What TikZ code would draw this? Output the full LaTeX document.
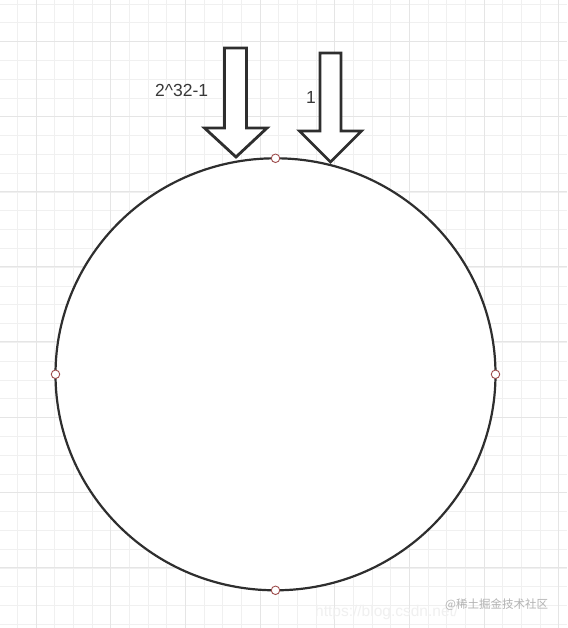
\documentclass[tikz,border=0pt]{standalone}
\usepackage{fontspec}
\setmainfont{Liberation Sans}
\newfontfamily\cjkfont{Noto Sans CJK SC}
\begin{document}
\begin{tikzpicture}[x=1pt,y=-1pt,
  minorline/.style={draw=black!6,line width=0.9pt},
  majorline/.style={draw=black!10,line width=0.9pt},
  ring/.style={draw=black!82,line width=2.2pt,fill=white},
  blockarrow/.style={draw=black!82,line width=2.8pt,line join=miter,fill=white},
  marker/.style={circle,draw=red!45!black!70,fill=white,line width=0.9pt,minimum size=8.5pt,inner sep=0pt},
  lbl/.style={font=\fontsize{17.5}{20}\selectfont,text=black!78,inner sep=0pt},
  wm/.style={inner sep=0pt}]
\useasboundingbox[fill=white] (0,0) rectangle (567,628);
% grid
\foreach \i in {1,...,30} \draw[minorline] ({-1.33+18.67*\i},0) -- ({-1.33+18.67*\i},628);
\foreach \j in {0,...,33} \draw[minorline] (0,{4+18.8*\j}) -- (567,{4+18.8*\j});
\foreach \i in {0,...,7} \draw[majorline] ({36+74.67*\i},0) -- ({36+74.67*\i},628);
\foreach \j in {0,...,7} \draw[majorline] (0,{41+75.2*\j}) -- (567,{41+75.2*\j});
% ring
\coordinate (c) at (275.5,374.3);
\draw[ring] (c) ellipse [x radius=220, y radius=216];
\node[marker] (mtop) at (275.5,158.3) {};
\node[marker] (mleft) at (55.5,374.3) {};
\node[marker] (mright) at (495.5,374.3) {};
\node[marker] (mbottom) at (275.5,590.3) {};
% arrows
\draw[blockarrow] (224.5,48) -- (246.5,48) -- (246.5,128) -- (267,128) -- (236,157) -- (204.5,128) -- (224.5,128) -- cycle;
\draw[blockarrow] (320,53) -- (341,53) -- (341,131) -- (361.5,131) -- (330.5,162) -- (299.5,131) -- (320,131) -- cycle;
% labels
\node[lbl,anchor=base west] (lmax) at (155,96.7) {2\textasciicircum 32-1};
\node[lbl,anchor=base west] (lone) at (306,103.3) {1};
% watermarks
\node[wm,anchor=west,text=black!6,font=\fontsize{15.5}{18}\selectfont] (wurl) at (315,612) {https://blog.csdn.net/};
\node[wm,anchor=west,text=black!30,font=\cjkfont\fontsize{11.5}{14}\selectfont] (wjj) at (445,605) {@稀土掘金技术社区};
\end{tikzpicture}
\end{document}
